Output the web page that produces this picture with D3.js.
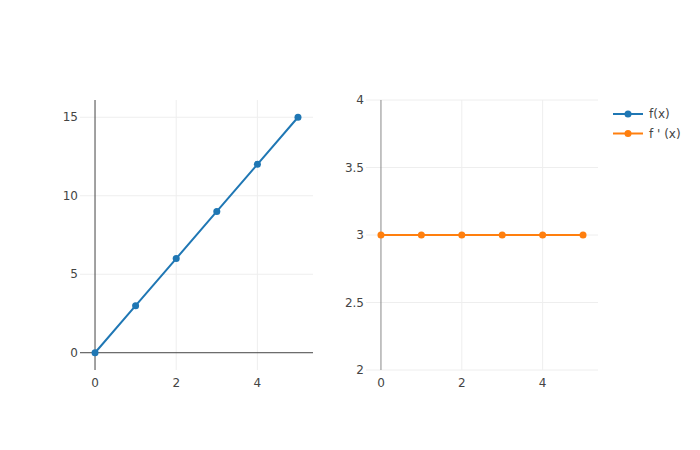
<!DOCTYPE html>
<html>
<head>
<meta charset="utf-8">
<script src="https://cdn.jsdelivr.net/npm/d3@7"></script>
<style>
  body { margin: 0; background: #fff; }
  text { font-family: "DejaVu Sans", Verdana, sans-serif; font-size: 12px; fill: #444; }
</style>
</head>
<body>
<svg id="chart" width="700" height="450"></svg>
<script>
const xs = [0, 1, 2, 3, 4, 5]
const fValues = [0, 3, 6, 9, 12, 15]
const dfValues = [3, 3, 3, 3, 3, 3]
const xTicks = [0, 2, 4]
const leftYTicks = [0, 5, 10, 15]
const rightYTicks = [2, 2.5, 3, 3.5, 4]
const seriesNames = ["f(x)", "f ' (x)"]
const colors = ["#1f77b4", "#ff7f0e"]

const svg = d3.select("#chart")
const plotTop = 100, plotBottom = 370

const panels = [
  { x0: 80, x1: 313, xDomain: [-0.37, 5.37], yDomain: [-1.1, 16.1], yTicks: leftYTicks, values: fValues, color: colors[0], zeroColor: "#444" },
  { x0: 366, x1: 598, xDomain: [-0.37, 5.37], yDomain: [2, 4], yTicks: rightYTicks, values: dfValues, color: colors[1], zeroColor: "#888" }
]

panels.forEach((p) => {
  const x = d3.scaleLinear().domain(p.xDomain).range([p.x0, p.x1])
  const y = d3.scaleLinear().domain(p.yDomain).range([plotBottom, plotTop])
  const g = svg.append("g")

  // grid
  g.selectAll(".vgrid").data(xTicks.filter(t => t !== 0)).enter()
    .append("line")
      .attr("x1", d => x(d)).attr("x2", d => x(d))
      .attr("y1", plotTop).attr("y2", plotBottom)
      .attr("stroke", "#eee").attr("stroke-width", 1)
  g.selectAll(".hgrid").data(p.yTicks.filter(t => t !== 0)).enter()
    .append("line")
      .attr("x1", p.x0).attr("x2", p.x1)
      .attr("y1", d => y(d)).attr("y2", d => y(d))
      .attr("stroke", "#eee").attr("stroke-width", 1)

  // zero lines
  g.append("line")
    .attr("x1", x(0)).attr("x2", x(0))
    .attr("y1", plotTop).attr("y2", plotBottom)
    .attr("stroke", p.zeroColor).attr("stroke-width", 1)
  if (p.yDomain[0] <= 0 && p.yDomain[1] >= 0) {
    g.append("line")
      .attr("x1", p.x0).attr("x2", p.x1)
      .attr("y1", y(0)).attr("y2", y(0))
      .attr("stroke", "#444").attr("stroke-width", 1)
  }

  // tick labels
  g.selectAll(".xlab").data(xTicks).enter()
    .append("text")
      .attr("x", d => x(d)).attr("y", plotBottom + 17)
      .attr("text-anchor", "middle")
      .text(d => d)
  g.selectAll(".ylab").data(p.yTicks).enter()
    .append("text")
      .attr("x", p.x0 - 2).attr("y", d => y(d))
      .attr("dy", "0.35em")
      .attr("text-anchor", "end")
      .text(d => d)

  // series
  const line = d3.line().x((d, i) => x(xs[i])).y(d => y(d))
  g.append("path")
    .datum(p.values)
    .attr("d", line)
    .attr("fill", "none")
    .attr("stroke", p.color)
    .attr("stroke-width", 2)
  g.selectAll(".pt").data(p.values).enter()
    .append("circle")
      .attr("cx", (d, i) => x(xs[i]))
      .attr("cy", d => y(d))
      .attr("r", 3.5)
      .attr("fill", p.color)
})

// legend
const legend = svg.append("g").attr("transform", "translate(613, 114)")
seriesNames.forEach((name, i) => {
  const row = legend.append("g").attr("transform", `translate(0, ${i * 19.5})`)
  row.append("line")
    .attr("x1", 0).attr("x2", 30).attr("y1", 0).attr("y2", 0)
    .attr("stroke", colors[i]).attr("stroke-width", 2)
  row.append("circle").attr("cx", 15).attr("cy", 0).attr("r", 3.5).attr("fill", colors[i])
  row.append("text").attr("x", 36).attr("y", 0).attr("dy", "0.35em").text(name)
})
</script>
</body>
</html>
